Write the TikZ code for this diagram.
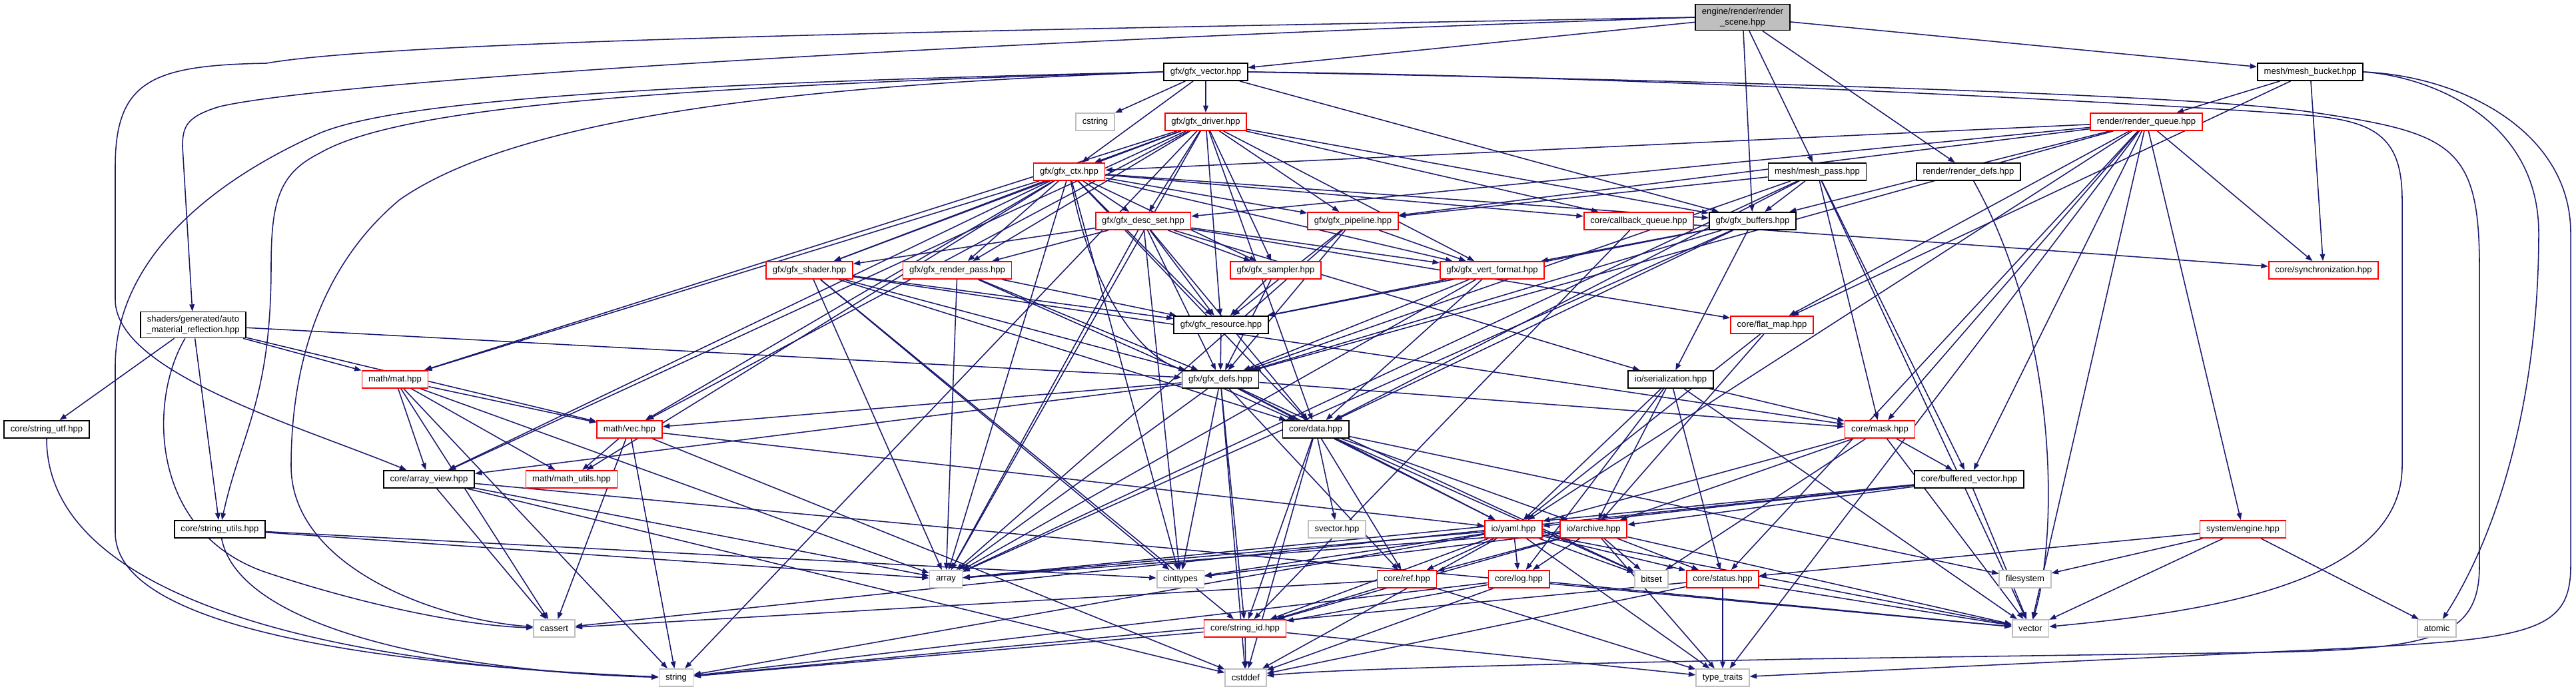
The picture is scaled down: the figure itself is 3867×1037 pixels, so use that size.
\documentclass[tikz,border=0pt]{standalone}
\usepackage{fontspec}
\setmainfont{Liberation Sans}
\usetikzlibrary{arrows.meta}
\definecolor{edgeblue}{HTML}{191970}
\definecolor{boxred}{HTML}{FF0000}
\definecolor{boxgray}{HTML}{BFBFBF}
\pgfdeclarelayer{bg}
\pgfsetlayers{bg,main}

\begin{document}
\begin{tikzpicture}[x=0.25mm,y=-0.25mm,
  hdr/.style={draw=black,fill=white,line width=0.45mm,
    font=\fontsize{9.3}{11}\selectfont,inner xsep=2.4mm,inner ysep=1.4mm,
    minimum height=6.5mm,align=center},
  trunc/.style={hdr,draw=boxred},
  sys/.style={hdr,draw=boxgray},
  rootbox/.style={hdr,fill=boxgray},
  inc/.style={draw=edgeblue,line width=1.1pt,-{Triangle[length=2.6mm,width=1.9mm]}}]
\path[use as bounding box] (0,0) rectangle (3867,1037);
% the file itself
\node[rootbox] (root) at (2616,26) {engine/render/render\\\_scene.hpp};
% rank 1 and 2
\node[hdr] (gvec) at (1810,108) {gfx/gfx\_vector.hpp};
\node[hdr] (mbucket) at (3468,108) {mesh/mesh\_bucket.hpp};
\node[sys] (cstring) at (1644,183) {cstring};
\node[trunc] (gdriver) at (1810,183) {gfx/gfx\_driver.hpp};
\node[trunc] (rqueue) at (3222,183) {render/render\_queue.hpp};
\node[trunc] (gctx) at (1605,258) {gfx/gfx\_ctx.hpp};
\node[hdr] (mpass) at (2728,258) {mesh/mesh\_pass.hpp};
\node[hdr] (rdefs) at (2955,258) {render/render\_defs.hpp};
% gfx layer
\node[trunc] (descset) at (1716,332) {gfx/gfx\_desc\_set.hpp};
\node[trunc] (pipeline) at (2031,332) {gfx/gfx\_pipeline.hpp};
\node[trunc] (cbqueue) at (2460,332) {core/callback\_queue.hpp};
\node[hdr] (gbuffers) at (2631,332) {gfx/gfx\_buffers.hpp};
\node[trunc] (shader) at (1215,406) {gfx/gfx\_shader.hpp};
\node[trunc] (rpass) at (1437,406) {gfx/gfx\_render\_pass.hpp};
\node[trunc] (sampler) at (1915,406) {gfx/gfx\_sampler.hpp};
\node[trunc] (vertfmt) at (2240,406) {gfx/gfx\_vert\_format.hpp};
\node[trunc] (sync) at (3488,406) {core/synchronization.hpp};
\node[hdr] (automat) at (290,488) {shaders/generated/auto\\\_material\_reflection.hpp};
\node[hdr] (resource) at (1833,488) {gfx/gfx\_resource.hpp};
\node[trunc] (flatmap) at (2660,488) {core/flat\_map.hpp};
\node[hdr] (gdefs) at (1832,570) {gfx/gfx\_defs.hpp};
\node[hdr] (serial) at (2508,570) {io/serialization.hpp};
\node[trunc] (mat) at (593,570) {math/mat.hpp};
% core layer
\node[hdr] (strutf) at (70,645) {core/string\_utf.hpp};
\node[trunc] (vec) at (945,645) {math/vec.hpp};
\node[hdr] (data) at (1975,645) {core/data.hpp};
\node[trunc] (mask) at (2822,645) {core/mask.hpp};
\node[hdr] (arrview) at (644,720) {core/array\_view.hpp};
\node[trunc] (mathutils) at (858,720) {math/math\_utils.hpp};
\node[hdr] (bufvec) at (2956,720) {core/buffered\_vector.hpp};
\node[hdr] (strutils) at (330,795) {core/string\_utils.hpp};
\node[sys] (svector) at (2007,795) {svector.hpp};
\node[trunc] (yaml) at (2272,795) {io/yaml.hpp};
\node[trunc] (archive) at (2392,795) {io/archive.hpp};
\node[trunc] (sysengine) at (3367,795) {system/engine.hpp};
\node[sys] (array) at (1420,870) {array};
\node[sys] (cinttypes) at (1772,870) {cinttypes};
\node[trunc] (ref) at (2112,870) {core/ref.hpp};
\node[trunc] (log) at (2280,870) {core/log.hpp};
\node[sys] (bitset) at (2479,870) {bitset};
\node[trunc] (status) at (2586,870) {core/status.hpp};
\node[sys] (filesystem) at (3040,870) {filesystem};
\node[sys] (cassert) at (832,944) {cassert};
\node[trunc] (strid) at (1869,944) {core/string\_id.hpp};
\node[sys] (vector) at (3048,944) {vector};
\node[sys] (atomic) at (3658,944) {atomic};
\node[sys] (string) at (1015,1018) {string};
\node[sys] (cstddef) at (1870,1018) {cstddef};
\node[sys] (typetraits) at (2586,1018) {type\_traits};

\begin{pgfonlayer}{bg}
\fill[white] (0,0) rectangle (3867,1037);
% includes of render_scene.hpp
\foreach \t in {gvec,mbucket,mpass,rdefs,gbuffers} \draw[inc] (root) -- (\t);
\draw[inc] (root.west) .. controls (1500,45) and (600,60) .. (400,95)
  .. controls (230,98) and (173,120) .. (173,250) -- (173,450)
  .. controls (173,560) and (450,640) .. (arrview);
\draw[inc] (root.west) .. controls (1500,60) and (500,120) .. (330,160)
  .. controls (280,175) and (274,190) .. (274,220) -- (automat);
% gfx_vector.hpp
\foreach \t in {cstring,gdriver,gctx,gbuffers} \draw[inc] (gvec) -- (\t);
\draw[inc] (gvec.west) .. controls (1000,125) and (600,150) .. (480,200)
  .. controls (300,280) and (173,400) .. (173,550) -- (173,800)
  .. controls (173,950) and (600,1000) .. (string);
\draw[inc] (gvec.west) .. controls (1000,130) and (600,160) .. (480,230)
  .. controls (420,260) and (407,300) .. (407,400)
  .. controls (407,600) and (362,650) .. (strutils);
\draw[inc] (gvec.west) .. controls (1300,125) and (800,160) .. (600,300)
  .. controls (480,400) and (437,550) .. (437,700)
  .. controls (437,850) and (650,930) .. (cassert);
\draw[inc] (gvec.east) .. controls (2500,115) and (3300,160) .. (3450,172)
  .. controls (3560,180) and (3606,200) .. (3606,300) -- (3606,700)
  .. controls (3606,880) and (3300,920) .. (vector);
\draw[inc] (gvec.east) .. controls (2500,120) and (3300,140) .. (3480,170)
  .. controls (3680,200) and (3722,220) .. (3722,400) -- (3722,850)
  .. controls (3722,960) and (3650,975) .. (3400,980) -- (2700,990)
  .. controls (2300,998) and (2000,1005) .. (cstddef);
% mesh_bucket.hpp
\foreach \t in {rqueue,sync,flatmap} \draw[inc] (mbucket) -- (\t);
\draw[inc] (mbucket.east) .. controls (3650,115) and (3811,180) .. (3811,350)
  .. controls (3811,600) and (3750,800) .. (atomic);
\draw[inc] (mbucket.east) .. controls (3700,115) and (3859,200) .. (3859,350)
  -- (3859,850) .. controls (3859,950) and (3800,960) .. (3500,975) -- (typetraits);
% gfx_driver.hpp and gfx_ctx.hpp
\foreach \t in {gctx,descset,pipeline,gbuffers,shader,rpass,sampler,vertfmt,
  resource,cbqueue,data,mat,vec,arrview,array,string}
  \draw[inc] (gdriver) -- (\t);
\foreach \t in {descset,pipeline,shader,rpass,sampler,vertfmt,resource,gbuffers,
  cbqueue,mat,vec,arrview,array,cinttypes,data,mathutils}
  \draw[inc] (gctx) -- (\t);
\draw[inc] (gctx) .. controls (1640,450) and (1720,540) .. (gdefs);
% render_queue.hpp and mesh_pass.hpp
\foreach \t in {gctx,descset,pipeline,gbuffers,sync,flatmap,mask,bufvec,
  sysengine,gdefs,vector,typetraits,yaml,status}
  \draw[inc] (rqueue) -- (\t);
\foreach \t in {gbuffers,pipeline,gdefs,data,mask,bufvec,vector,array}
  \draw[inc] (mpass) -- (\t);
\draw[inc] (rdefs) .. controls (3090,500) and (3090,800) .. (vector);
% gfx headers
\foreach \t in {shader,rpass,sampler,resource,gdefs,flatmap,serial,array,cinttypes,data,vertfmt}
  \draw[inc] (descset) -- (\t);
\foreach \t in {vertfmt,resource,gdefs,array} \draw[inc] (pipeline) -- (\t);
\foreach \t in {sync,strid} \draw[inc] (cbqueue) -- (\t);
\foreach \t in {vertfmt,resource,gdefs,serial,data,array} \draw[inc] (gbuffers) -- (\t);
\foreach \t in {resource,gdefs,data,strid,array,cinttypes,mask} \draw[inc] (shader) -- (\t);
\foreach \t in {resource,gdefs,array,data} \draw[inc] (rpass) -- (\t);
\foreach \t in {resource,gdefs} \draw[inc] (sampler) -- (\t);
\foreach \t in {resource,gdefs,data,array} \draw[inc] (vertfmt) -- (\t);
\draw[inc] (resource) -- (gdefs);
\foreach \t in {mat,vec,strutf,strutils,gdefs} \draw[inc] (automat) -- (\t);
\draw[inc] (automat) .. controls (223,600) and (223,800) .. (400,860)
  .. controls (550,910) and (700,940) .. (cassert);
\foreach \t in {vec,mask,data,array,cinttypes,strid,bitset,ref,yaml,cstddef,arrview}
  \draw[inc] (gdefs) -- (\t);
% io and core
\foreach \t in {yaml,archive} \draw[inc] (flatmap) -- (\t);
\foreach \t in {yaml,archive,mask,status,log,vector} \draw[inc] (serial) -- (\t);
\foreach \t in {vec,mathutils,arrview,cassert,string,array} \draw[inc] (mat) -- (\t);
\draw[inc] (strutf) .. controls (70,900) and (500,1000) .. (string);
\foreach \t in {mathutils,cassert,yaml,cstddef,string} \draw[inc] (vec) -- (\t);
\foreach \t in {yaml,archive,ref,strid,cstddef,bitset,filesystem,svector}
  \draw[inc] (data) -- (\t);
\foreach \t in {yaml,archive,bitset,bufvec,vector} \draw[inc] (mask) -- (\t);
\foreach \t in {cassert,array,vector,cstddef} \draw[inc] (arrview) -- (\t);
\foreach \t in {yaml,archive,vector,array,cassert} \draw[inc] (bufvec) -- (\t);
\foreach \t in {array,cinttypes} \draw[inc] (strutils) -- (\t);
\draw[inc] (strutils) .. controls (360,950) and (700,1010) .. (string);
\foreach \t in {ref,log,status,array,cinttypes,bitset,strid,typetraits,vector,string,cstddef}
  \draw[inc] (yaml) -- (\t);
\foreach \t in {ref,log,status,bitset,vector,array,cinttypes,typetraits,strid}
  \draw[inc] (archive) -- (\t);
\foreach \t in {filesystem,vector,atomic,status} \draw[inc] (sysengine) -- (\t);
\foreach \t in {cassert,typetraits,strid} \draw[inc] (ref) -- (\t);
\foreach \t in {strid,string,vector,cstddef} \draw[inc] (log) -- (\t);
\foreach \t in {typetraits,string,cstddef,vector} \draw[inc] (status) -- (\t);
\foreach \t in {string,cstddef,typetraits} \draw[inc] (strid) -- (\t);
\end{pgfonlayer}
\end{tikzpicture}
\end{document}
